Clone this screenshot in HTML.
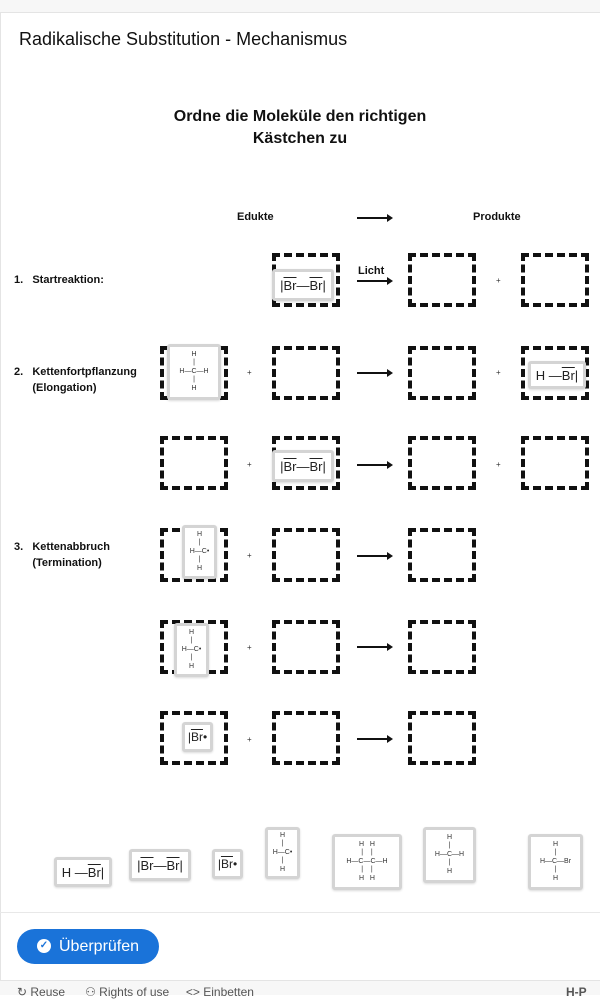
<!DOCTYPE html>
<html><head><meta charset="utf-8"><style>
body{margin:0;width:600px;height:994px;position:relative;overflow:hidden;background:#fff;font-family:"Liberation Sans",sans-serif;}
.a{position:absolute}
.d{position:absolute;border:4px dashed #111;box-sizing:border-box;width:68px;height:54px}
.it{position:absolute;box-sizing:border-box;border:3px solid #d4d4d4;border-radius:3px;background:#fff;display:flex;align-items:center;justify-content:center;color:#222;font-size:13px;box-shadow:0 1px 2px rgba(0,0,0,.15)}
.m{font-size:7px;line-height:8.5px;text-align:center;white-space:pre;font-family:"Liberation Sans",sans-serif;color:#333}
.b{font-weight:bold;font-size:11px;color:#111}
.arr{position:absolute;height:2px;background:#111;width:34px}
.arr:after{content:"";position:absolute;right:-2px;top:-3px;border-left:6px solid #111;border-top:4px solid transparent;border-bottom:4px solid transparent}
.p{position:absolute;font-size:8px;color:#333}
.ol{text-decoration:overline}
</style></head><body>
<div class="a" style="left:0;top:0;width:600px;height:12px;background:#f7f7f7;border-bottom:1px solid #e4e4e4"></div>
<div class="a" style="left:0;top:12px;width:1px;height:970px;background:#e4e4e4"></div>
<div class="a" style="left:19px;top:29px;font-size:18px;color:#111">Radikalische Substitution - Mechanismus</div>
<div class="a" style="left:0;top:106px;width:600px;text-align:center;font-weight:bold;font-size:16px;line-height:22px;color:#111">Ordne die Moleküle den richtigen<br>Kästchen zu</div>
<div class="a b" style="left:237px;top:211px">Edukte</div>
<div class="arr" style="left:357px;top:217px"></div>
<div class="a b" style="left:473px;top:211px">Produkte</div>

<div class="a b" style="left:14px;top:274px">1.&nbsp;&nbsp;&nbsp;Startreaktion:</div>
<div class="a b" style="left:14px;top:364px;line-height:16px">2.&nbsp;&nbsp;&nbsp;Kettenfortpflanzung<br>&nbsp;&nbsp;&nbsp;&nbsp;&nbsp;&nbsp;(Elongation)</div>
<div class="a b" style="left:14px;top:539px;line-height:16px">3.&nbsp;&nbsp;&nbsp;Kettenabbruch<br>&nbsp;&nbsp;&nbsp;&nbsp;&nbsp;&nbsp;(Termination)</div>

<!-- row1 -->
<div class="d" style="left:272px;top:253px"></div>
<div class="a b" style="left:358px;top:265px">Licht</div>
<div class="arr" style="left:357px;top:280px"></div>
<div class="d" style="left:408px;top:253px"></div>
<div class="p" style="left:496px;top:276px">+</div>
<div class="d" style="left:521px;top:253px"></div>
<div class="it" style="left:272px;top:269px;width:62px;height:32px">|<span class="ol">Br</span>—<span class="ol">Br</span>|</div>
<!-- row2 -->
<div class="d" style="left:160px;top:346px"></div>
<div class="it" style="left:167px;top:344px;width:54px;height:56px"><div class="m">H
|
H—C—H
|
H</div></div>
<div class="p" style="left:247px;top:368px">+</div>
<div class="d" style="left:272px;top:346px"></div>
<div class="arr" style="left:357px;top:372px"></div>
<div class="d" style="left:408px;top:346px"></div>
<div class="p" style="left:496px;top:368px">+</div>
<div class="d" style="left:521px;top:346px"></div>
<div class="it" style="left:528px;top:361px;width:58px;height:28px">H — <span class="ol">Br</span>|</div>
<!-- row3 -->
<div class="d" style="left:160px;top:436px"></div>
<div class="p" style="left:247px;top:460px">+</div>
<div class="d" style="left:272px;top:436px"></div>
<div class="it" style="left:272px;top:450px;width:62px;height:32px">|<span class="ol">Br</span>—<span class="ol">Br</span>|</div>
<div class="arr" style="left:357px;top:464px"></div>
<div class="d" style="left:408px;top:436px"></div>
<div class="p" style="left:496px;top:460px">+</div>
<div class="d" style="left:521px;top:436px"></div>
<!-- row4 -->
<div class="d" style="left:160px;top:528px"></div>
<div class="it" style="left:182px;top:525px;width:35px;height:54px"><div class="m">H
|
H—C•
|
H</div></div>
<div class="p" style="left:247px;top:551px">+</div>
<div class="d" style="left:272px;top:528px"></div>
<div class="arr" style="left:357px;top:555px"></div>
<div class="d" style="left:408px;top:528px"></div>
<!-- row5 -->
<div class="d" style="left:160px;top:620px"></div>
<div class="it" style="left:174px;top:623px;width:35px;height:54px"><div class="m">H
|
H—C•
|
H</div></div>
<div class="p" style="left:247px;top:643px">+</div>
<div class="d" style="left:272px;top:620px"></div>
<div class="arr" style="left:357px;top:646px"></div>
<div class="d" style="left:408px;top:620px"></div>
<!-- row6 -->
<div class="d" style="left:160px;top:711px"></div>
<div class="it" style="left:182px;top:722px;width:31px;height:30px;font-size:12px">|<span class="ol">Br</span>•</div>
<div class="p" style="left:247px;top:735px">+</div>
<div class="d" style="left:272px;top:711px"></div>
<div class="arr" style="left:357px;top:738px"></div>
<div class="d" style="left:408px;top:711px"></div>

<!-- tray -->
<div class="it" style="left:54px;top:857px;width:58px;height:30px">H — <span class="ol">Br</span>|</div>
<div class="it" style="left:129px;top:849px;width:62px;height:32px">|<span class="ol">Br</span>—<span class="ol">Br</span>|</div>
<div class="it" style="left:212px;top:849px;width:31px;height:30px;font-size:12px">|<span class="ol">Br</span>•</div>
<div class="it" style="left:265px;top:827px;width:35px;height:52px"><div class="m">H
|
H—C•
|
H</div></div>
<div class="it" style="left:332px;top:834px;width:70px;height:56px"><div class="m">H   H
|    |
H—C—C—H
|    |
H   H</div></div>
<div class="it" style="left:423px;top:827px;width:53px;height:56px"><div class="m">H
|
H—C—H
|
H</div></div>
<div class="it" style="left:528px;top:834px;width:55px;height:56px"><div class="m">H
|
H—C—Br
|
H</div></div>

<div class="a" style="left:0;top:912px;width:600px;height:1px;background:#e8e8e8"></div>
<div class="a" style="left:17px;top:929px;width:142px;height:35px;border-radius:18px;background:#1a73d9;color:#fff;font-size:16px;line-height:35px"><span style="position:absolute;left:20px;top:10px;width:14px;height:14px;border-radius:50%;background:#fff;color:#1a73d9;font-size:10px;line-height:14px;text-align:center;font-weight:bold">✓</span><span style="position:absolute;left:42px">Überprüfen</span></div>
<div class="a" style="left:0;top:980px;width:600px;height:14px;background:#f7f7f7;border-top:1px solid #e4e4e4"></div>
<div class="a" style="left:17px;top:985px;font-size:12px;color:#555">↻ Reuse&nbsp;&nbsp;&nbsp;&nbsp;&nbsp; ⚇ Rights of use&nbsp;&nbsp;&nbsp;&nbsp; &lt;&gt; Einbetten</div>
<div class="a" style="left:566px;top:985px;font-size:12px;color:#555;font-weight:bold">H-P</div>
</body></html>
